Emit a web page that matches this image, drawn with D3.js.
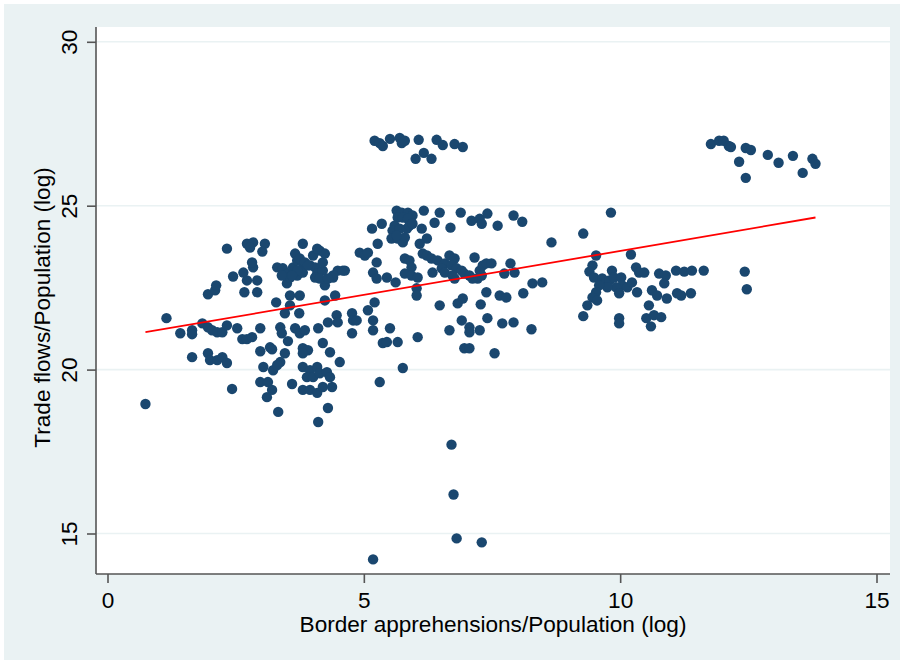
<!DOCTYPE html>
<html>
<head>
<meta charset="utf-8">
<script src="https://cdn.jsdelivr.net/npm/d3@7"></script>
<style>
  body { margin: 0; background: #fff; }
  text { font-family: "Liberation Sans", Arial, Helvetica, sans-serif; fill: #000; }
</style>
</head>
<body>
<svg id="chart" width="904" height="664"></svg>
<script>
const xTicks = [0, 5, 10, 15];
const yTicks = [15, 20, 25, 30];
const xTitle = "Border apprehensions/Population (log)";
const yTitle = "Trade flows/Population (log)";

// [apprehensions, trade flows]
const leftCluster = [
  [0.74,18.95],[1.15,21.57],[1.42,21.11],[1.65,21.20],[1.65,21.08],[1.85,21.41],[1.96,21.29],
  [2.04,21.20],[2.14,21.14],[2.24,21.14],[2.33,21.35],[2.53,21.26],[2.63,20.93],[2.72,20.93],
  [2.82,20.99],[1.65,20.38],[1.96,20.50],[2.00,20.29],[2.14,20.29],[2.24,20.38],[2.33,20.20],
  [2.43,19.41],[2.33,23.69],[2.45,22.84],[1.96,22.30],[2.10,22.42],[2.12,22.57],[2.67,22.36],
  [2.92,22.36],[2.72,22.72],[2.65,22.96],[2.84,23.12],[2.82,23.27],[2.92,22.72],[2.72,23.84],
  [2.84,23.88],[2.78,23.72],[3.07,23.84],[3.02,23.60],[3.29,22.05],[3.56,22.26],[3.75,22.26],
  [3.56,21.96],[3.46,21.72],[3.74,21.72],[2.98,21.26],[3.37,21.29],[3.40,21.11],[3.52,20.87],
  [3.66,21.26],[3.75,21.11],[3.85,21.20],[4.11,21.26],[4.30,21.44],[4.47,21.66],[4.49,21.44],
  [4.77,21.72],[4.79,21.50],[4.86,21.50],[4.77,21.11],[5.18,21.20],[5.18,21.50],[5.08,21.81],
  [2.98,20.56],[3.17,20.68],[3.21,20.62],[3.46,20.50],[3.37,20.23],[3.04,20.08],[3.23,19.98],
  [3.31,20.14],[2.98,19.62],[3.13,19.62],[3.21,19.38],[3.11,19.16],[3.33,18.71],[3.60,19.56],
  [3.81,20.65],[3.91,20.59],[3.81,20.50],[4.20,20.81],[4.34,20.53],[4.53,20.23],[3.81,20.08],
  [3.95,19.98],[4.09,20.08],[3.89,19.77],[4.01,19.77],[4.14,19.89],[4.28,19.92],[4.34,19.77],
  [3.81,19.38],[3.95,19.38],[4.09,19.29],[4.20,19.47],[4.38,19.47],[4.30,18.83],[4.11,18.40],
  [3.31,23.12],[3.42,23.09],[3.52,22.93],[3.62,23.12],[3.70,23.33],[3.81,23.24],[3.95,23.18],
  [4.05,23.12],[4.09,22.93],[4.20,23.02],[4.20,23.27],[4.14,23.63],[4.24,23.54],[4.01,23.48],
  [3.81,23.84],[3.66,23.54],[3.50,22.63],[3.56,22.81],[3.70,22.87],[3.81,22.96],[4.24,22.57],
  [4.40,22.81],[4.49,23.02],[4.63,23.02],[4.44,22.26],[4.24,22.11],[3.75,23.39],[3.85,23.27],
  [3.70,23.02],[3.60,22.87],[3.40,22.87],[4.05,22.81],[4.14,22.78],[4.59,23.02],[4.40,22.87],
  [4.30,22.78],[3.91,23.18],[4.09,23.69]
];

const midCluster = [
  [4.92,23.57],[5.02,23.48],[5.08,23.57],[5.16,24.30],[5.35,24.45],[5.27,23.84],[5.25,23.27],
  [5.18,22.96],[5.25,22.78],[5.45,22.81],[5.21,22.05],[5.37,20.81],[5.31,19.62],
  [5.64,24.85],[5.74,24.79],[5.86,24.79],[5.95,24.70],[5.66,24.64],[5.76,24.64],[5.86,24.60],
  [5.60,24.39],[5.56,24.24],[5.70,24.30],[5.84,24.30],[5.89,24.39],[5.95,24.45],[5.54,24.00],
  [5.66,24.00],[5.76,23.88],[5.80,24.03],[5.64,24.09],[6.17,24.85],[6.48,24.79],[6.89,24.79],
  [7.10,24.54],[7.26,24.60],[7.30,24.45],[7.41,24.76],[7.61,24.39],[7.92,24.70],[8.09,24.51],
  [6.38,24.48],[6.69,24.33],[6.13,24.30],[6.23,24.00],[6.09,23.84],[5.62,22.66],[5.80,23.39],
  [5.89,23.33],[5.93,23.12],[5.80,22.93],[5.93,22.87],[6.05,22.81],[6.15,23.54],[6.23,23.48],
  [6.32,23.39],[6.44,23.33],[6.58,23.24],[6.67,23.48],[6.77,23.39],[6.71,23.18],[6.81,23.09],
  [6.91,23.02],[6.77,22.78],[6.96,22.93],[7.06,22.87],[7.16,23.42],[7.26,23.02],[7.32,23.18],
  [7.39,23.24],[7.49,23.24],[7.22,22.78],[7.30,22.87],[7.74,22.93],[7.86,23.24],[7.94,22.96],
  [6.34,22.96],[6.52,23.09],[6.58,22.96],[6.73,22.87],[7.12,22.78],[8.66,23.88],
  [6.03,22.48],[6.03,22.26],[5.51,21.26],[5.45,20.84],[5.66,20.84],[5.76,20.05],[6.05,20.99],
  [6.48,21.96],[6.83,22.02],[6.93,22.17],[6.67,21.20],[6.91,21.50],[7.06,21.29],[7.06,21.14],
  [7.26,21.20],[7.28,21.99],[7.39,22.36],[7.41,21.57],[7.65,22.26],[7.78,22.20],[7.70,21.41],
  [7.92,21.44],[8.11,22.33],[8.29,22.63],[8.48,22.66],[8.27,21.23],[6.96,20.65],[7.06,20.65],
  [7.55,20.50]
];

const topMidCluster = [
  [5.21,26.98],[5.31,26.91],[5.37,26.82],[5.51,27.04],[5.70,27.07],[5.74,26.91],[5.80,26.98],
  [6.07,27.01],[6.17,26.61],[6.01,26.43],[6.32,26.43],[6.42,27.01],[6.54,26.85],[6.77,26.88],
  [6.93,26.79]
];

const outliers = [
  [6.71,17.71],[6.75,16.19],[6.81,14.85],[7.30,14.73],[5.18,14.21]
];

const rightCluster = [
  [9.82,24.79],[9.28,24.15],[9.53,23.48],[10.21,23.51],[9.46,23.18],[9.40,22.99],[9.49,22.81],
  [9.65,22.78],[9.69,22.63],[9.79,22.72],[9.84,23.02],[9.88,22.81],[10.02,22.81],[10.04,22.57],
  [9.92,22.51],[9.75,22.51],[9.59,22.57],[9.53,22.36],[9.46,22.20],[9.55,22.11],[9.36,21.96],
  [9.28,21.63],[9.98,22.33],[10.14,22.51],[10.23,22.66],[10.33,22.36],[10.31,23.12],[10.37,22.96],
  [10.47,22.96],[10.76,22.93],[10.89,22.87],[10.86,22.63],[10.62,22.42],[10.72,22.26],[10.91,22.17],
  [11.11,22.33],[11.19,22.26],[11.09,23.02],[11.25,22.99],[11.40,23.02],[11.63,23.02],[11.38,22.33],
  [10.56,21.96],[10.51,21.57],[10.66,21.66],[10.80,21.60],[10.60,21.32],[9.98,21.57],[9.98,21.41],
  [12.43,22.99],[12.47,22.45]
];

const topRightCluster = [
  [11.77,26.88],[11.93,26.98],[12.02,26.98],[12.12,26.82],[12.16,26.79],[12.32,26.34],[12.45,26.76],
  [12.55,26.70],[12.45,25.85],[12.88,26.55],[13.09,26.31],[13.37,26.52],[13.56,26.00],[13.75,26.43],
  [13.81,26.28]
];

// linear fit, end points
const fitLine = [[0.74, 21.14], [13.81, 24.64]];

const points = [].concat(leftCluster, midCluster, topMidCluster, outliers, rightCluster, topRightCluster);

const plotLeft = 96, plotRight = 890, plotTop = 27, plotBottom = 574;
const fontSize = 22.6;

const svg = d3.select("#chart");

const x = d3.scaleLinear().domain([0, 15]).range([107.5, 876.5]);
const y = d3.scaleLinear().domain([15, 30]).range([533.5, 41.8]);

// graph region and plot region
svg.append("rect")
  .attr("x", 4).attr("y", 4)
  .attr("width", 896).attr("height", 656)
  .attr("fill", "#eaf2f3");

svg.append("rect")
  .attr("x", plotLeft).attr("y", plotTop)
  .attr("width", plotRight - plotLeft).attr("height", plotBottom - plotTop)
  .attr("fill", "#fff");

// horizontal grid
svg.append("g")
  .selectAll("line")
  .data(yTicks)
  .join("line")
  .attr("x1", plotLeft).attr("x2", plotRight)
  .attr("y1", d => y(d)).attr("y2", d => y(d))
  .attr("stroke", "#eaf2f3")
  .attr("stroke-width", 1.6);

// scatter
svg.append("g")
  .selectAll("circle")
  .data(points)
  .join("circle")
  .attr("cx", d => x(d[0]))
  .attr("cy", d => y(d[1]))
  .attr("r", 5.2)
  .attr("fill", "#1a476f");

// fitted line
svg.append("path")
  .datum(fitLine)
  .attr("d", d3.line().x(d => x(d[0])).y(d => y(d[1])))
  .attr("fill", "none")
  .attr("stroke", "#ff0000")
  .attr("stroke-width", 1.8);

// axes
const xAxis = svg.append("g")
  .attr("transform", `translate(0,${plotBottom})`)
  .call(d3.axisBottom(x).tickValues(xTicks).tickSize(9).tickPadding(9).tickSizeOuter(0));
xAxis.select(".domain").attr("d", `M${plotLeft},0H${plotRight}`);

const yAxis = svg.append("g")
  .attr("transform", `translate(${plotLeft},0)`)
  .call(d3.axisLeft(y).tickValues(yTicks).tickSize(9).tickSizeOuter(0));
yAxis.select(".domain").attr("d", `M0,${plotTop}V${plotBottom}`);

svg.selectAll(".domain, .tick line")
  .attr("stroke", "#555")
  .attr("stroke-width", 1.6);

xAxis.selectAll(".tick text")
  .attr("font-size", fontSize)
  .attr("font-family", null)
  .attr("fill", "#000");

yAxis.selectAll(".tick text")
  .attr("font-size", fontSize)
  .attr("font-family", null)
  .attr("fill", "#000")
  .attr("x", null).attr("dy", null)
  .attr("text-anchor", "middle")
  .attr("transform", "translate(-19,0) rotate(-90)");

// titles
svg.append("text")
  .attr("x", (plotLeft + plotRight) / 2)
  .attr("y", 632)
  .attr("text-anchor", "middle")
  .attr("font-size", fontSize)
  .text(xTitle);

svg.append("text")
  .attr("transform", `translate(50,${(plotTop + plotBottom) / 2 + 7}) rotate(-90)`)
  .attr("text-anchor", "middle")
  .attr("font-size", fontSize)
  .text(yTitle);
</script>
</body>
</html>
